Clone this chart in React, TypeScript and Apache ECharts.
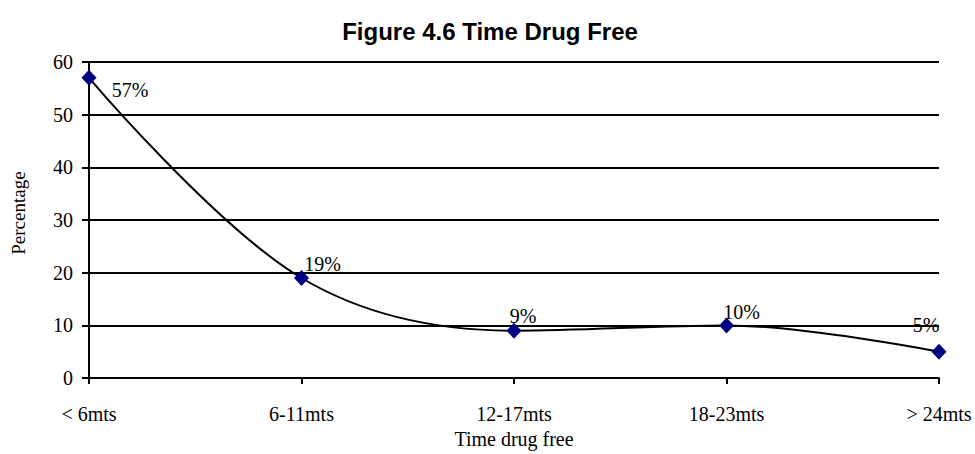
import React, { useEffect, useRef } from "react";
import * as echarts from "echarts";

const categories = ["< 6mts", "6-11mts", "12-17mts", "18-23mts", "> 24mts"];
const values = [57, 19, 9, 10, 5];
const labelOffsets = [[41, 12], [21, -14], [9, -15], [15, -13], [-13, -27]];

export default function App() {
  const ref = useRef<HTMLDivElement>(null);
  useEffect(() => {
    const chart = echarts.init(ref.current!, null, { renderer: "svg" });
    const serif = "Liberation Serif";
    chart.setOption({
      animation: false,
      title: {
        text: "Figure 4.6 Time Drug Free",
        left: 485,
        top: 14,
        textAlign: "center",
        textStyle: { fontFamily: "Liberation Sans", fontWeight: "bold", fontSize: 24, color: "#000" },
      },
      grid: { left: 89, right: 36, top: 62, bottom: 71 },
      xAxis: {
        type: "category",
        data: categories,
        boundaryGap: false,
        name: "Time drug free",
        nameLocation: "middle",
        nameGap: 50,
        nameTextStyle: { fontFamily: serif, fontSize: 20, color: "#000" },
        axisLine: { lineStyle: { color: "#000", width: 2 } },
        axisTick: { show: true, length: 6, lineStyle: { color: "#000", width: 2 } },
        axisLabel: { fontFamily: serif, fontSize: 20, color: "#000", margin: 26 },
      },
      yAxis: {
        type: "value",
        min: 0,
        max: 60,
        interval: 10,
        name: "Percentage",
        nameLocation: "middle",
        nameGap: 61,
        nameRotate: 90,
        nameTextStyle: { fontFamily: serif, fontSize: 19, color: "#000", padding: [0, 0, 0, 14] },
        axisLine: { show: true, lineStyle: { color: "#000", width: 2 } },
        axisTick: { show: true, length: 7, lineStyle: { color: "#000", width: 2 } },
        axisLabel: { fontFamily: serif, fontSize: 20, color: "#000", margin: 16 },
        splitLine: { lineStyle: { color: "#000", width: 2 } },
      },
      series: [
        {
          type: "line",
          data: values.map((v, i) => ({
            value: v,
            label: {
              show: true,
              position: "inside",
              offset: labelOffsets[i],
              formatter: "{c}%",
            },
          })),
          smooth: 0.35,
          symbol: "diamond",
          symbolSize: [15, 16],
          itemStyle: { color: "#000080" },
          lineStyle: { color: "#000", width: 2 },
          label: {
            show: true,
            fontFamily: serif,
            fontSize: 20,
            color: "#000",
            align: "center",
            verticalAlign: "middle",
          },
          z: 5,
        },
      ],
    });
    return () => chart.dispose();
  }, []);
  return (
    <div
      ref={ref}
      style={{ position: "absolute", left: 0, top: 0, width: 975, height: 454 }}
    />
  );
}
